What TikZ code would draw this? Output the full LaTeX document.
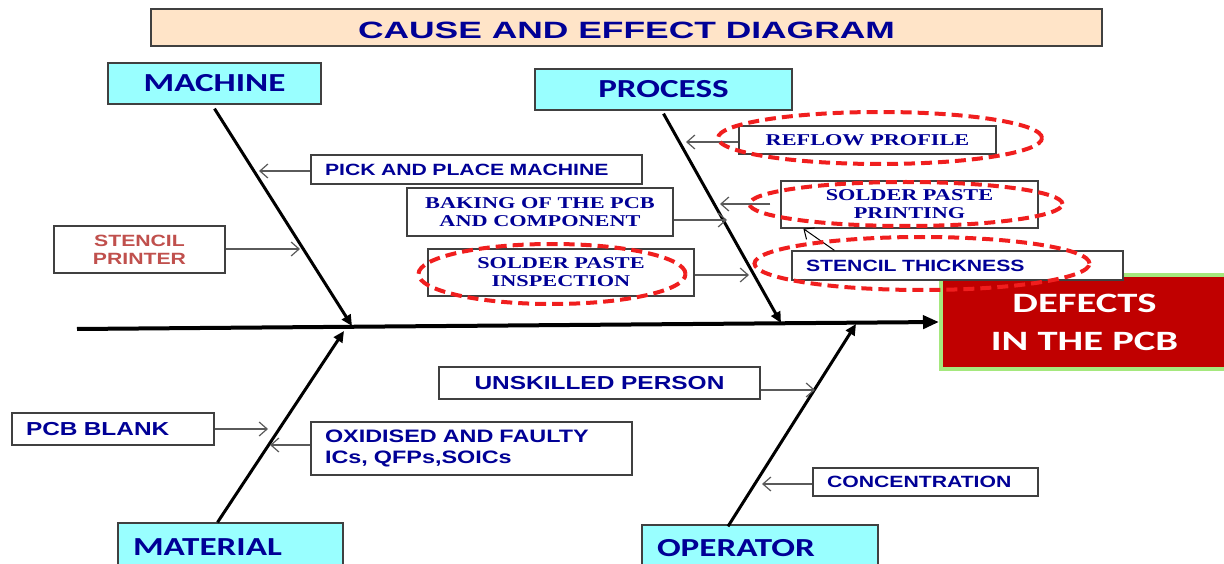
\documentclass[tikz,border=0pt]{standalone}
\usepackage{fontspec}
\usepackage{tikz}
\usetikzlibrary{
    arrows.meta,
    shapes.geometric,
    positioning
}
\newfontfamily\titlefont[FakeStretch=1.5]{Liberation Sans}
\newfontfamily\catfont[FakeStretch=1.35]{Carlito}
\newfontfamily\causefont[FakeStretch=1.3]{Liberation Sans}
\newfontfamily\causeserif[FakeStretch=1.35]{Liberation Serif}
\newfontfamily\effectfont[FakeStretch=1.45]{Carlito}

\definecolor{navytext}{RGB}{0,0,150}
\definecolor{catfill}{RGB}{153,255,255}
\definecolor{titlefill}{RGB}{255,228,200}
\definecolor{effectfill}{RGB}{192,0,0}
\definecolor{effectedge}{RGB}{165,232,125}
\definecolor{boxedge}{RGB}{64,64,64}
\definecolor{arrowgray}{RGB}{90,90,90}
\definecolor{ringred}{RGB}{240,30,30}
\definecolor{printerred}{RGB}{192,80,77}

\tikzset{
    titlebox/.style={draw=boxedge, line width=1.5pt, fill=titlefill, minimum width=951pt, minimum height=37pt, inner sep=0pt, text height=23pt, text depth=0pt, text=navytext, font=\titlefont\bfseries\fontsize{23.6}{26}\selectfont},
    catbox/.style={draw=boxedge, line width=1.3pt, fill=catfill, minimum height=41pt, inner sep=0pt, text=navytext, font=\catfont\bfseries\fontsize{26}{28}\selectfont},
    causebox/.style={draw=boxedge, line width=1.3pt, fill=white, inner xsep=14pt, inner ysep=0pt, text=navytext, font=\causefont\bfseries\fontsize{16.3}{21}\selectfont},
    causebig/.style={causebox, font=\causefont\bfseries\fontsize{18.8}{21}\selectfont},
    serifbox/.style={causebox, align=center, font=\causeserif\bfseries\fontsize{16.5}{18}\selectfont},
    effectbox/.style={draw=effectedge, line width=4pt, fill=effectfill, minimum width=287pt, minimum height=94pt, inner sep=0pt, text=white, align=center, font=\effectfont\bfseries\fontsize{28}{38}\selectfont},
    spine/.style={line width=4pt, -{Triangle[length=16pt,width=13pt]}},
    bone/.style={line width=3pt, -{Triangle[length=11pt,width=10pt]}},
    cause/.style={draw=arrowgray, line width=1.2pt, -{Straight Barb[length=8pt,width=14pt]}},
    ring/.style={ellipse, draw=ringred, line width=4pt, dash pattern=on 11pt off 6pt, inner sep=0pt}
}

\begin{document}
\begin{tikzpicture}[x=1pt, y=-1pt]
    \useasboundingbox (0,0) rectangle (1224,564);

    % heading and effect
    \node[titlebox] (heading) at (626.5,27.5) {CAUSE AND EFFECT DIAGRAM};
    \node[effectbox] (defects) at (1084.5,322) {DEFECTS\\IN THE PCB};

    % categories
    \node[catbox, minimum width=213pt] (machine) at (214.5,83.5) {MACHINE};
    \node[catbox, minimum width=257pt] (process) at (663.5,89.5) {PROCESS};
    \node[catbox, minimum height=48pt, inner xsep=15pt, text width=195pt, align=left] (material) at (230.5,547) {MATERIAL};
    \node[catbox, minimum height=46pt, inner xsep=15pt, text width=206pt, align=left] (operator) at (760,548) {OPERATOR};

    % causes
    \node[causebox, minimum height=29pt, text width=303pt, align=left] (pick) at (476.5,169.5) {PICK AND PLACE MACHINE};
    \node[causebox, minimum width=171pt, minimum height=47pt, align=center, text=printerred, font=\causefont\bfseries\fontsize{16.3}{18}\selectfont] (printer) at (139.5,249.5) {STENCIL\\PRINTER};
    \node[serifbox, minimum width=266pt, minimum height=48pt] (baking) at (540,212) {BAKING OF THE PCB\\AND COMPONENT};
    \node[serifbox, minimum width=266pt, minimum height=47pt] (inspection) at (561,272.5) {SOLDER PASTE\\INSPECTION};
    \node[serifbox, minimum width=257pt, minimum height=28pt] (reflow) at (867.5,140) {REFLOW PROFILE};
    \node[serifbox, minimum width=257pt, minimum height=47pt] (printing) at (909.5,204.5) {SOLDER PASTE\\PRINTING};
    \node[causebox, minimum height=29pt, text width=303pt, align=left] (thickness) at (957.5,265.5) {STENCIL THICKNESS};
    \node[causebig, minimum width=321pt, minimum height=32pt] (unskilled) at (599.5,383) {UNSKILLED PERSON};
    \node[causebig, minimum height=32pt, text width=174pt, align=left] (blank) at (113,429) {PCB BLANK};
    \node[causebox, minimum height=53pt, text width=293pt, align=left, font=\causefont\bfseries\fontsize{18}{21}\selectfont] (oxidised) at (471.5,448.5) {OXIDISED AND FAULTY\\ICs, QFPs,SOICs};
    \node[causebox, minimum height=28pt, text width=197pt, align=left, inner xsep=14pt] (concentration) at (925.5,482) {CONCENTRATION};

    % fish bones
    \coordinate (tail) at (77,329);
    \draw[spine] (tail) -- (defects.west);
    \coordinate (machineEnd) at (352,326);
    \coordinate (processEnd) at (781,323);
    \coordinate (materialEnd) at (344,331);
    \coordinate (operatorEnd) at (856,324);
    \draw[bone] ([yshift=-4pt]machine.south) -- (machineEnd);
    \draw[bone] ([yshift=-3pt]process.south) -- (processEnd);
    \draw[bone] ([xshift=-13pt]material.north) -- (materialEnd);
    \draw[bone] ([xshift=-32pt, yshift=-2pt]operator.north) -- (operatorEnd);

    % cause arrows
    \coordinate (pickTip) at (259,171);
    \coordinate (printerTip) at (300,249);
    \coordinate (bakingTip) at (727,220);
    \coordinate (inspectionTip) at (749,275);
    \coordinate (reflowTip) at (686,142);
    \coordinate (printingTip) at (720,204);
    \coordinate (unskilledTip) at (815,390);
    \coordinate (blankTip) at (268,429);
    \coordinate (oxidisedTip) at (270,445);
    \coordinate (concentrationTip) at (762,484);
    \draw[cause] (pick.west |- pickTip) -- (pickTip);
    \draw[cause] (printer.east |- printerTip) -- (printerTip);
    \draw[cause] (baking.east |- bakingTip) -- (bakingTip);
    \draw[cause] (inspection.east |- inspectionTip) -- (inspectionTip);
    \draw[cause] (reflow.west |- reflowTip) -- (reflowTip);
    \draw[cause, shorten <=10pt] (printing.west |- printingTip) -- (printingTip);
    \draw[cause, draw=black, line width=1pt] ([xshift=43pt]thickness.north west) -- ([xshift=23pt]printing.south west);
    \draw[cause] (unskilled.east |- unskilledTip) -- (unskilledTip);
    \draw[cause] (blank.east |- blankTip) -- (blankTip);
    \draw[cause] (oxidised.west |- oxidisedTip) -- (oxidisedTip);
    \draw[cause] (concentration.west |- concentrationTip) -- (concentrationTip);

    % highlighted causes
    \node[ring, minimum width=324pt, minimum height=52pt] (reflowRing) at (880,138) {};
    \node[ring, minimum width=313pt, minimum height=44pt] (printingRing) at (906,204) {};
    \node[ring, minimum width=335pt, minimum height=53pt] (thicknessRing) at (922,263.5) {};
    \node[ring, minimum width=267pt, minimum height=60pt] (inspectionRing) at (552,274) {};
\end{tikzpicture}
\end{document}
